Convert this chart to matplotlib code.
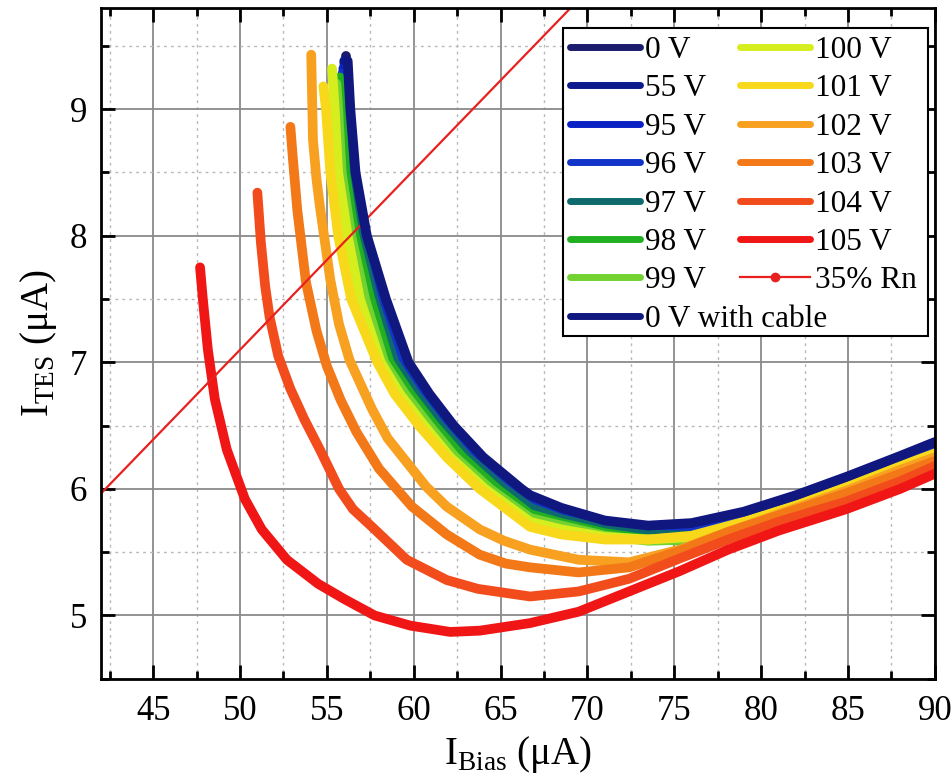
import matplotlib.pyplot as plt
from matplotlib.ticker import MultipleLocator
from matplotlib.patches import Rectangle

plt.rcParams['font.family'] = ['Liberation Serif', 'DejaVu Serif']
plt.rcParams['mathtext.fontset'] = 'custom'
plt.rcParams['mathtext.rm'] = 'Liberation Serif'

# ---- data (I_bias in uA, I_TES in uA) ----
x_0v = [56.1, 56.3, 56.6, 57.2, 58.3, 59.6, 60.8, 62.2, 63.9, 66.1, 66.7, 68.5, 71.0, 73.5, 76.0, 79.0, 82.0, 85.0, 88.0, 90.0]
y_0v = [9.42, 9.0, 8.5, 8.0, 7.5, 7.0, 6.75, 6.5, 6.25, 6.0, 5.94, 5.84, 5.74, 5.70, 5.72, 5.81, 5.94, 6.09, 6.25, 6.36]

x_cable = [56.2, 56.35, 56.65, 57.3, 58.4, 59.7, 60.9, 62.3, 64.0, 66.2, 66.7, 68.5, 71.0, 73.5, 76.0, 79.0, 82.0, 85.0, 88.0, 90.0]
y_cable = [9.38, 9.0, 8.5, 8.0, 7.5, 7.0, 6.75, 6.5, 6.25, 6.0, 5.95, 5.85, 5.75, 5.71, 5.73, 5.82, 5.95, 6.10, 6.26, 6.37]

x_55v = [56.0, 56.2, 56.5, 57.1, 58.2, 59.5, 60.7, 62.1, 63.8, 66.0, 66.7, 68.5, 71.0, 73.5, 76.0, 79.0, 82.0, 85.0, 88.0, 90.0]
y_55v = [9.38, 9.0, 8.5, 8.0, 7.5, 7.0, 6.75, 6.5, 6.25, 6.0, 5.93, 5.83, 5.73, 5.69, 5.71, 5.80, 5.93, 6.08, 6.24, 6.35]

x_95v = [55.95, 56.1, 56.4, 57.0, 58.0, 59.3, 60.5, 61.9, 63.6, 65.8, 66.7, 68.5, 71.0, 73.5, 76.0, 79.0, 82.0, 85.0, 88.0, 90.0]
y_95v = [9.32, 9.0, 8.5, 8.0, 7.5, 7.0, 6.75, 6.5, 6.25, 6.0, 5.91, 5.81, 5.72, 5.68, 5.70, 5.79, 5.92, 6.07, 6.23, 6.34]

x_96v = [55.9, 56.05, 56.35, 56.9, 57.9, 59.2, 60.4, 61.8, 63.5, 65.6, 66.7, 68.5, 71.0, 73.5, 76.0, 79.0, 82.0, 85.0, 88.0, 90.0]
y_96v = [9.28, 9.0, 8.5, 8.0, 7.5, 7.0, 6.75, 6.5, 6.25, 6.0, 5.90, 5.80, 5.71, 5.67, 5.69, 5.78, 5.91, 6.06, 6.22, 6.33]

x_97v = [55.85, 55.95, 56.2, 56.8, 57.7, 58.9, 60.1, 61.5, 63.1, 65.2, 66.7, 68.5, 71.0, 73.5, 76.0, 79.0, 82.0, 85.0, 88.0, 90.0]
y_97v = [9.22, 9.0, 8.5, 8.0, 7.5, 7.0, 6.75, 6.5, 6.25, 6.0, 5.85, 5.76, 5.68, 5.64, 5.63, 5.72, 5.85, 6.00, 6.15, 6.27]

x_98v = [55.75, 55.85, 56.05, 56.6, 57.5, 58.6, 59.8, 61.2, 62.8, 64.8, 66.7, 68.5, 71.0, 73.5, 76.0, 79.0, 82.0, 85.0, 88.0, 90.0]
y_98v = [9.25, 9.0, 8.5, 8.0, 7.5, 7.0, 6.75, 6.5, 6.25, 6.0, 5.80, 5.73, 5.65, 5.60, 5.59, 5.68, 5.81, 5.95, 6.11, 6.23]

x_99v = [55.55, 55.65, 55.85, 56.4, 57.2, 58.3, 59.5, 60.9, 62.4, 64.4, 66.7, 68.5, 71.0, 73.5, 76.0, 79.0, 82.0, 85.0, 88.0, 90.0]
y_99v = [9.20, 9.0, 8.5, 8.0, 7.5, 7.0, 6.75, 6.5, 6.25, 6.0, 5.77, 5.71, 5.63, 5.59, 5.60, 5.69, 5.82, 5.96, 6.12, 6.24]

x_100v = [55.3, 55.45, 55.65, 56.2, 56.9, 58.1, 59.2, 60.6, 62.1, 64.1, 66.7, 68.5, 71.0, 73.5, 76.0, 79.0, 82.0, 85.0, 88.0, 90.0]
y_100v = [9.32, 9.0, 8.5, 8.0, 7.5, 7.0, 6.75, 6.5, 6.25, 6.0, 5.74, 5.68, 5.62, 5.60, 5.62, 5.72, 5.85, 6.00, 6.16, 6.27]

x_101v = [54.8, 54.95, 55.2, 55.65, 56.4, 57.9, 58.9, 60.3, 61.9, 63.8, 66.7, 68.5, 71.0, 73.5, 76.0, 79.0, 82.0, 85.0, 88.0, 90.0]
y_101v = [9.18, 9.0, 8.5, 8.0, 7.5, 7.0, 6.75, 6.5, 6.25, 6.0, 5.70, 5.64, 5.60, 5.60, 5.63, 5.74, 5.87, 6.02, 6.18, 6.28]

x_102v = [54.1, 54.15, 54.2, 54.4, 54.6, 55.2, 55.7, 56.3, 57.6, 58.5, 59.6, 60.7, 61.9, 63.8, 65.2, 66.7, 69.5, 72.4, 75.3, 78.1, 81.0, 85.0, 88.0, 90.0]
y_102v = [9.43, 9.1, 8.76, 8.45, 8.23, 7.65, 7.30, 7.02, 6.63, 6.40, 6.21, 6.02, 5.86, 5.68, 5.59, 5.52, 5.44, 5.42, 5.52, 5.66, 5.80, 5.99, 6.15, 6.25]

x_103v = [52.9, 53.05, 53.3, 53.8, 54.4, 55.0, 55.8, 56.7, 58.0, 59.9, 61.9, 63.8, 65.3, 66.7, 69.5, 72.4, 75.3, 78.1, 81.0, 85.0, 88.0, 90.0]
y_103v = [8.86, 8.60, 8.20, 7.63, 7.25, 6.97, 6.70, 6.45, 6.16, 5.86, 5.64, 5.48, 5.41, 5.38, 5.34, 5.38, 5.51, 5.66, 5.79, 5.97, 6.12, 6.22]

x_104v = [51.0, 51.2, 51.45, 51.7, 52.2, 52.9, 53.7, 54.6, 55.7, 56.5, 57.6, 59.6, 61.9, 63.7, 66.7, 69.5, 72.4, 75.3, 78.1, 81.0, 84.9, 88.0, 90.0]
y_104v = [8.34, 7.95, 7.60, 7.36, 7.05, 6.79, 6.55, 6.31, 6.00, 5.84, 5.70, 5.44, 5.28, 5.21, 5.15, 5.19, 5.29, 5.45, 5.60, 5.74, 5.90, 6.06, 6.18]

x_105v = [47.7, 47.86, 48.15, 48.55, 49.24, 50.28, 51.25, 52.7, 54.5, 56.0, 57.75, 59.8, 62.1, 63.8, 66.7, 69.5, 72.4, 75.3, 78.1, 81.0, 84.9, 88.0, 90.0]
y_105v = [7.75, 7.50, 7.10, 6.71, 6.31, 5.92, 5.68, 5.44, 5.25, 5.13, 5.00, 4.92, 4.87, 4.88, 4.94, 5.03, 5.19, 5.35, 5.52, 5.67, 5.84, 6.00, 6.12]

# 35% Rn line (goes through the origin)
x_rn = [40.0, 72.0]
y_rn = [5.68, 10.22]

curves = [
    ('0 V', x_0v, y_0v, '#1c1c6c'),
    ('55 V', x_55v, y_55v, '#0c1a8e'),
    ('95 V', x_95v, y_95v, '#0a22c4'),
    ('96 V', x_96v, y_96v, '#1234c8'),
    ('97 V', x_97v, y_97v, '#0e6a6c'),
    ('98 V', x_98v, y_98v, '#22b022'),
    ('99 V', x_99v, y_99v, '#72d232'),
    ('100 V', x_100v, y_100v, '#d6ee1e'),
    ('101 V', x_101v, y_101v, '#f8d81a'),
    ('102 V', x_102v, y_102v, '#f8a020'),
    ('103 V', x_103v, y_103v, '#f27818'),
    ('104 V', x_104v, y_104v, '#f24c1c'),
    ('105 V', x_105v, y_105v, '#f01616'),
]

fig = plt.figure(figsize=(9.53, 7.82), dpi=100)
ax = fig.add_axes([0.106, 0.132, 0.875, 0.858])

handles = {}
for name, xs, ys, col in curves:
    handles[name], = ax.plot(xs, ys, color=col, lw=7, solid_capstyle='round',
                             solid_joinstyle='round', label=name)
handles['35% Rn'], = ax.plot(x_rn, y_rn, color='#e82020', lw=1.6, marker='o', markersize=6, label='35% Rn')
handles['0 V with cable'], = ax.plot(x_cable, y_cable, color='#101880', lw=7,
                                     solid_capstyle='round', solid_joinstyle='round', label='0 V with cable')

ax.set_xlim(42, 90)
ax.set_ylim(4.5, 9.8)
ax.xaxis.set_major_locator(MultipleLocator(5))
ax.xaxis.set_minor_locator(MultipleLocator(2.5))
ax.yaxis.set_major_locator(MultipleLocator(1))
ax.yaxis.set_minor_locator(MultipleLocator(0.5))
ax.grid(which='major', color='#8a8a8a', lw=1.3)
ax.grid(which='minor', color='#b8b8b8', lw=1.0, ls=(0, (2, 3)))
ax.set_axisbelow(True)

ax.tick_params(which='both', direction='in', top=True, right=True, width=2, labelsize=25)
ax.tick_params(which='major', length=10)
ax.tick_params(which='minor', length=6)
ax.tick_params(axis='x', pad=12)
ax.tick_params(axis='y', pad=10)
for sp in ax.spines.values():
    sp.set_linewidth(2)

fig.canvas.draw()
ax.get_xticklabels()[-1].set_ha('right')

ax.set_xlabel(r'I$_\mathregular{Bias}$ (μA)', fontsize=28, labelpad=4)
ax.set_ylabel(r'I$_\mathregular{TES}$ (μA)', fontsize=28, labelpad=8)

# legend: box + two columns placed by hand (last entry of column 1 runs under column 2)
col1 = ['0 V', '55 V', '95 V', '96 V', '97 V', '98 V', '99 V', '0 V with cable']
col2 = ['100 V', '101 V', '102 V', '103 V', '104 V', '105 V', '35% Rn']
box = Rectangle((0.554, 0.511), 0.4376, 0.459, transform=ax.transAxes, facecolor='white',
                edgecolor='black', lw=1.5, zorder=4.5, clip_on=False)
ax.add_patch(box)
leg_kw = dict(fontsize=22.5, frameon=False, handlelength=2.24, handletextpad=0.16,
              labelspacing=0.30, borderpad=0, borderaxespad=0, loc='upper left')
leg1 = ax.legend([handles[n] for n in col1], col1, bbox_to_anchor=(0.562, 0.958), **leg_kw)
ax.add_artist(leg1)
leg2 = ax.legend([handles[n] for n in col2], col2, bbox_to_anchor=(0.766, 0.958), **leg_kw)
for lg in (leg1, leg2):
    for ln in lg.get_lines():
        if ln.get_linewidth() > 3:
            ln.set_linewidth(5)

fig.savefig('out.png', dpi=100)
